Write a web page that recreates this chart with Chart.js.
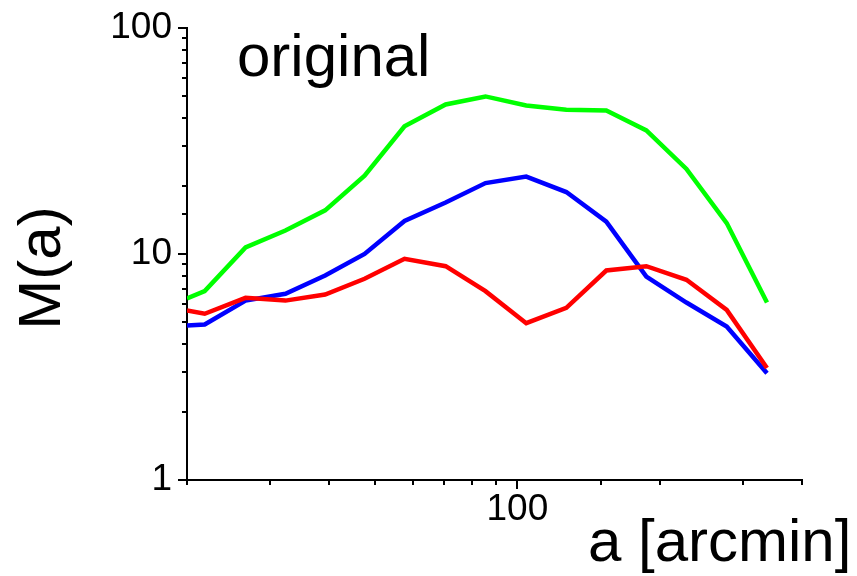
<!DOCTYPE html>
<html>
<head>
<meta charset="utf-8">
<script src="https://cdn.jsdelivr.net/npm/chart.js@4.4.1/dist/chart.umd.min.js"></script>
<style>
    body { margin: 0; background: #fff; }
    #chartContainer { width: 857px; height: 576px; }
</style>
</head>
<body>
<div id="chartContainer"><canvas id="myChart" width="857" height="576"></canvas></div>
<script>
// data (log-log)
let aValues = [20, 21.8, 26.6, 32.3, 39.2, 47.5, 57.7, 70.5, 85.6, 104.4, 126.9, 154.2, 187.4, 227.8, 277.2, 337.3];
let greenValues = [6.36, 6.86, 10.7, 12.7, 15.6, 22.2, 36.7, 45.9, 49.8, 45.4, 43.5, 43.1, 35.2, 23.8, 13.7, 6.1];
let blueValues = [4.83, 4.88, 6.22, 6.67, 8.03, 10.0, 14.0, 16.9, 20.6, 22.0, 18.8, 13.9, 7.95, 6.1, 4.78, 2.97];
let redValues = [5.62, 5.44, 6.40, 6.22, 6.62, 7.77, 9.52, 8.83, 6.85, 4.94, 5.78, 8.45, 8.83, 7.69, 5.66, 3.13];
let xTickLabels = [100];
let yTickLabels = [1, 10, 100];

let fontName = "'Liberation Sans', Arial, sans-serif";

function toPoints(ys) {
    let pts = [];
    for (let i = 0; i < aValues.length; i++) {
        pts.push({ x: aValues[i], y: ys[i] });
    }
    return pts;
}

function makeSet(label, ys, color) {
    return {
        label: label,
        data: toPoints(ys),
        borderColor: color,
        backgroundColor: color,
        borderWidth: 4.5,
        pointRadius: 0,
        tension: 0,
        fill: false
    };
}

// tick marks (long for labelled, short for the rest) + the texts
let extras = {
    id: "extras",
    afterDraw: function (chart) {
        let c = chart.ctx;
        let xs = chart.scales.x;
        let ys = chart.scales.y;
        let area = chart.chartArea;
        c.save();
        c.strokeStyle = "#000";
        c.lineWidth = 2;
        c.beginPath();
        ys.ticks.forEach(function (t) {
            let py = Math.round(ys.getPixelForValue(t.value));
            let len = yTickLabels.includes(t.value) ? 9 : 5;
            c.moveTo(area.left - len, py);
            c.lineTo(area.left, py);
        });
        xs.ticks.forEach(function (t) {
            let px = Math.round(xs.getPixelForValue(t.value));
            let len = xTickLabels.includes(t.value) ? 9 : 5;
            c.moveTo(px, area.bottom);
            c.lineTo(px, area.bottom + len);
        });
        c.stroke();

        c.fillStyle = "#000";
        c.font = "60px " + fontName;
        c.textBaseline = "alphabetic";
        c.textAlign = "left";
        c.fillText("original", 237, 76);
        c.fillText("a [arcmin]", 588, 561);

        c.translate(60, 268);
        c.rotate(-Math.PI / 2);
        c.textAlign = "center";
        c.fillText("M(a)", 0, 0);
        c.restore();
    }
};

let ctx = document.getElementById("myChart").getContext("2d");
let myChart = new Chart(ctx, {
    type: "line",
    data: {
        datasets: [
            makeSet("red", redValues, "#ff0000"),
            makeSet("blue", blueValues, "#0000ff"),
            makeSet("green", greenValues, "#00ff00")
        ]
    },
    options: {
        responsive: false,
        animation: false,
        layout: { padding: { top: 28, right: 55, left: 0, bottom: 0 } },
        plugins: {
            legend: { display: false },
            tooltip: { enabled: false }
        },
        scales: {
            x: {
                type: "logarithmic",
                min: 20,
                max: 400,
                grid: { display: false, drawTicks: false },
                border: { display: true, color: "#000", width: 2 },
                ticks: {
                    autoSkip: false,
                    maxRotation: 0,
                    padding: 8,
                    color: "#000",
                    font: { family: fontName, size: 37 },
                    callback: function (v) { return xTickLabels.includes(v) ? String(v) : ""; }
                },
                afterFit: function (scale) {
                    scale.height = 96;
                    scale.paddingLeft = 0;
                    scale.paddingRight = 0;
                }
            },
            y: {
                type: "logarithmic",
                min: 1,
                max: 100,
                grid: { display: false, drawTicks: false },
                border: { display: true, color: "#000", width: 2 },
                ticks: {
                    autoSkip: false,
                    padding: 15,
                    color: "#000",
                    font: { family: fontName, size: 37 },
                    callback: function (v) { return yTickLabels.includes(v) ? String(v) : ""; }
                },
                afterFit: function (scale) {
                    scale.width = 187;
                    scale.paddingTop = 0;
                    scale.paddingBottom = 0;
                }
            }
        }
    },
    plugins: [extras]
});
</script>
</body>
</html>
